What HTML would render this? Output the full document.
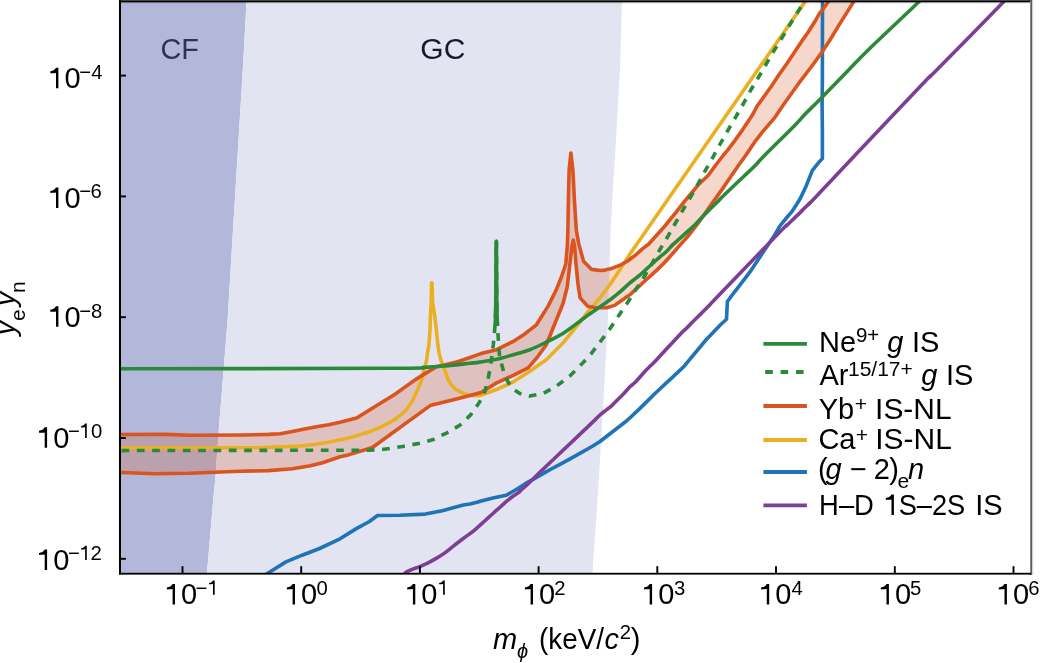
<!DOCTYPE html>
<html><head><meta charset="utf-8"><title>Chart</title>
<style>
html,body{margin:0;padding:0;background:#fff;}
body{width:1040px;height:663px;overflow:hidden;}
svg{display:block;font-family:"Liberation Sans",sans-serif;will-change:transform;}
</style></head><body>
<svg width="1040" height="663" viewBox="0 0 1040 663">
<defs><clipPath id="c"><rect x="121" y="1" width="910" height="572"/></clipPath></defs>
<g clip-path="url(#c)">
<polygon points="121.0,0.0 246.6,0.0 243.4,60.0 231.2,260.0 227.6,320.0 221.2,400.0 219.5,420.0 215.2,480.0 213.2,500.0 206.8,575.0 121.0,575.0" fill="#b3b8da"/>
<polygon points="246.6,0.0 243.4,60.0 231.2,260.0 227.6,320.0 221.2,400.0 219.5,420.0 215.2,480.0 213.2,500.0 206.8,575.0 592.3,575.0 597.5,500.0 603.5,400.0 607.9,320.0 610.6,230.0 613.5,180.0 618.3,100.0 620.3,60.0 621.9,0.0" fill="#e2e4f1"/>
<polygon points="110.0,434.6 166.2,434.4 189.2,435.3 244.1,435.0 268.3,434.4 280.4,433.8 292.4,431.4 304.5,429.0 316.6,426.8 328.7,424.7 340.0,422.3 356.6,418.0 374.7,406.7 395.0,394.3 415.4,379.6 435.7,367.1 445.3,364.7 458.4,361.5 481.0,353.6 496.6,349.7 513.2,341.4 524.8,333.9 536.4,324.8 548.1,306.1 556.3,289.8 561.7,276.2 565.8,264.0 567.4,245.0 567.9,230.0 568.4,200.3 569.1,170.2 570.9,153.0 572.9,170.2 574.4,200.3 576.3,230.0 578.7,243.6 583.5,261.2 591.6,269.4 600.0,270.5 605.0,270.1 612.5,268.2 620.1,265.2 627.6,261.0 635.2,255.4 642.7,248.6 648.5,244.2 656.2,235.8 663.8,227.3 670.1,219.5 675.8,212.7 683.5,202.7 691.2,193.5 698.8,184.2 708.1,175.5 715.8,165.0 723.5,155.0 728.1,149.6 735.0,140.4 742.7,129.6 751.9,115.8 757.3,105.8 763.5,97.3 771.2,86.5 778.8,75.0 786.9,63.5 794.6,51.9 802.3,40.4 808.1,32.3 815.8,20.0 819.6,13.1 823.5,8.5 828.1,1.9 829.3,0.0 854.7,0.0 853.5,1.9 846.5,13.1 838.8,25.4 829.2,41.2 821.5,52.7 813.8,63.5 798.1,84.2 790.4,95.0 782.7,105.8 775.0,117.3 761.9,132.7 754.2,142.7 746.5,154.2 738.8,165.0 731.2,176.0 721.9,189.6 714.2,200.4 706.5,211.2 698.1,223.2 687.7,236.6 680.2,244.9 670.0,256.6 663.2,263.9 657.1,269.9 651.1,275.3 645.1,280.8 637.7,287.7 630.0,294.6 622.3,300.0 614.6,305.4 606.9,307.7 595.4,307.7 587.7,306.2 580.1,297.9 578.0,284.3 576.0,264.0 574.6,246.3 573.3,240.2 571.9,246.3 569.9,264.0 567.2,287.0 563.1,303.3 556.3,320.0 546.3,344.7 538.0,356.3 528.1,367.9 513.2,375.4 496.6,382.9 481.0,392.5 458.4,398.4 430.1,405.6 372.4,447.5 348.4,454.9 340.0,456.7 322.6,462.8 310.5,465.8 292.4,468.8 268.3,470.6 240.0,471.3 189.2,473.3 154.6,473.7 121.2,472.5 110.0,472.4" fill="#d9541e" fill-opacity="0.23"/>
<polyline points="262.0,577.0 268.5,572.7 286.0,561.9 302.1,555.2 319.6,548.5 338.4,539.7 355.9,528.9 369.4,521.5 377.5,515.5 400.0,515.3 425.3,514.1 442.2,510.7 463.3,505.0 470.0,504.0 476.0,502.5 482.1,500.7 488.1,499.2 494.1,497.7 500.2,496.5 506.2,495.3 515.0,490.2 521.0,486.5 527.1,482.6 533.1,479.3 539.1,476.0 545.2,472.4 551.2,469.0 556.2,466.4 568.3,459.8 580.3,453.2 592.4,446.3 600.0,441.5 627.1,420.5 640.0,408.4 654.0,394.5 660.1,388.8 666.1,383.1 672.1,377.6 678.2,371.9 684.2,366.2 705.9,340.0 720.0,325.3 726.5,319.2 727.4,301.5 729.8,298.2 746.4,276.6 750.3,271.4 762.4,253.3 774.5,235.2 780.0,225.8 786.0,218.5 792.1,211.3 796.9,204.0 800.5,198.0 805.8,186.9 812.4,170.4 819.6,161.4 822.4,158.6 822.4,132.4 822.1,105.2 822.4,78.1 822.5,0.0" fill="none" stroke="#1f73b7" stroke-width="3.6" stroke-linejoin="round" />
<polyline points="110.0,448.0 256.2,447.7 280.4,446.7 300.0,446.1 313.6,444.5 327.2,442.5 340.7,439.8 354.3,436.4 367.9,432.3 381.5,426.8 395.1,419.4 405.9,410.6 411.5,402.5 417.0,390.9 421.7,380.0 422.8,375.2 424.7,367.7 426.6,360.2 427.6,352.6 428.9,345.1 429.5,337.5 430.0,330.0 430.4,316.2 431.2,302.6 431.6,282.7 432.0,282.7 432.6,302.6 434.8,316.2 436.4,330.0 437.1,337.5 437.9,345.1 439.0,352.6 440.9,360.2 443.8,367.7 446.6,375.2 448.1,380.0 451.5,385.0 456.0,389.5 461.5,392.5 467.0,394.6 472.0,395.8 480.0,395.5 496.6,389.5 513.2,382.0 529.8,371.3 546.3,359.7 562.9,343.1 581.5,320.0 588.7,310.8 596.4,302.3 604.1,292.3 609.6,285.0 616.8,274.2 624.2,262.9 631.6,251.6 639.0,241.0 806.3,0.0" fill="none" stroke="#ebb021" stroke-width="3.6" stroke-linejoin="round" />
<polyline points="110.0,434.6 166.2,434.4 189.2,435.3 244.1,435.0 268.3,434.4 280.4,433.8 292.4,431.4 304.5,429.0 316.6,426.8 328.7,424.7 340.0,422.3 356.6,418.0 374.7,406.7 395.0,394.3 415.4,379.6 435.7,367.1 445.3,364.7 458.4,361.5 481.0,353.6 496.6,349.7 513.2,341.4 524.8,333.9 536.4,324.8 548.1,306.1 556.3,289.8 561.7,276.2 565.8,264.0 567.4,245.0 567.9,230.0 568.4,200.3 569.1,170.2 570.9,153.0 572.9,170.2 574.4,200.3 576.3,230.0 578.7,243.6 583.5,261.2 591.6,269.4 600.0,270.5 605.0,270.1 612.5,268.2 620.1,265.2 627.6,261.0 635.2,255.4 642.7,248.6 648.5,244.2 656.2,235.8 663.8,227.3 670.1,219.5 675.8,212.7 683.5,202.7 691.2,193.5 698.8,184.2 708.1,175.5 715.8,165.0 723.5,155.0 728.1,149.6 735.0,140.4 742.7,129.6 751.9,115.8 757.3,105.8 763.5,97.3 771.2,86.5 778.8,75.0 786.9,63.5 794.6,51.9 802.3,40.4 808.1,32.3 815.8,20.0 819.6,13.1 823.5,8.5 828.1,1.9 829.3,0.0" fill="none" stroke="#d9541e" stroke-width="3.6" stroke-linejoin="round" />
<polyline points="110.0,472.4 121.2,472.5 154.6,473.7 189.2,473.3 240.0,471.3 268.3,470.6 292.4,468.8 310.5,465.8 322.6,462.8 340.0,456.7 348.4,454.9 372.4,447.5 430.1,405.6 458.4,398.4 481.0,392.5 496.6,382.9 513.2,375.4 528.1,367.9 538.0,356.3 546.3,344.7 556.3,320.0 563.1,303.3 567.2,287.0 569.9,264.0 571.9,246.3 573.3,240.2 574.6,246.3 576.0,264.0 578.0,284.3 580.1,297.9 587.7,306.2 595.4,307.7 606.9,307.7 614.6,305.4 622.3,300.0 630.0,294.6 637.7,287.7 645.1,280.8 651.1,275.3 657.1,269.9 663.2,263.9 670.0,256.6 680.2,244.9 687.7,236.6 698.1,223.2 706.5,211.2 714.2,200.4 721.9,189.6 731.2,176.0 738.8,165.0 746.5,154.2 754.2,142.7 761.9,132.7 775.0,117.3 782.7,105.8 790.4,95.0 798.1,84.2 813.8,63.5 821.5,52.7 829.2,41.2 838.8,25.4 846.5,13.1 853.5,1.9 854.7,0.0" fill="none" stroke="#d9541e" stroke-width="3.6" stroke-linejoin="round" />
<path d="M400.00,577.00C400.67,576.58 402.95,575.33 404.00,574.50C405.05,573.67 404.70,572.95 406.30,572.00C407.90,571.05 411.33,569.70 413.60,568.80C415.87,567.90 417.65,567.50 419.90,566.60C422.15,565.70 424.38,564.77 427.10,563.40C429.82,562.03 433.18,560.20 436.20,558.40C439.22,556.60 442.18,554.78 445.20,552.60C448.22,550.42 451.28,547.65 454.30,545.30C457.32,542.95 460.68,540.45 463.30,538.50C465.92,536.55 467.88,535.22 470.00,533.60C472.12,531.98 473.98,530.50 476.00,528.80C478.02,527.10 480.08,525.22 482.10,523.40C484.12,521.58 486.10,519.72 488.10,517.90C490.10,516.08 492.08,514.30 494.10,512.50C496.12,510.70 498.18,508.92 500.20,507.10C502.22,505.28 504.23,503.28 506.20,501.60C508.17,499.92 510.03,498.45 512.00,497.00C513.97,495.55 516.50,494.03 518.00,492.90C519.50,491.77 519.48,491.57 521.00,490.20C522.52,488.83 525.08,486.57 527.10,484.70C529.12,482.83 531.10,480.95 533.10,479.00C535.10,477.05 537.08,474.97 539.10,473.00C541.12,471.03 543.18,469.12 545.20,467.20C547.22,465.28 549.37,463.23 551.20,461.50C553.03,459.77 553.35,459.50 556.20,456.80C559.05,454.10 564.28,449.12 568.30,445.30C572.32,441.48 576.28,437.72 580.30,433.90C584.32,430.08 589.12,425.55 592.40,422.40C595.68,419.25 597.73,417.03 600.00,415.00C602.27,412.97 603.98,411.82 606.00,410.20C608.02,408.58 610.08,407.12 612.10,405.30C614.12,403.48 616.10,401.30 618.10,399.30C620.10,397.30 622.08,395.42 624.10,393.30C626.12,391.18 628.18,388.62 630.20,386.60C632.22,384.58 633.73,383.75 636.20,381.20C638.67,378.65 642.53,373.95 645.00,371.30C647.47,368.65 648.98,367.32 651.00,365.30C653.02,363.28 652.27,364.35 657.10,359.20C661.93,354.05 675.18,339.48 680.00,334.40C684.82,329.32 683.98,330.67 686.00,328.70C688.02,326.73 690.08,324.62 692.10,322.60C694.12,320.58 696.10,318.60 698.10,316.60C700.10,314.60 702.08,312.62 704.10,310.60C706.12,308.58 708.58,306.17 710.20,304.50C711.82,302.83 702.17,312.72 713.80,300.60C725.43,288.48 767.97,244.22 780.00,231.80C792.03,219.38 783.98,228.02 786.00,226.10C788.02,224.18 790.08,222.22 792.10,220.30C794.12,218.38 796.10,216.55 798.10,214.60C800.10,212.65 802.08,210.62 804.10,208.60C806.12,206.58 808.18,204.52 810.20,202.50C812.22,200.48 801.23,212.30 816.20,196.50C831.17,180.70 885.03,123.55 900.00,107.70C914.97,91.85 903.98,103.52 906.00,101.40C908.02,99.28 910.08,97.12 912.10,95.00C914.12,92.88 916.10,90.80 918.10,88.70C920.10,86.60 922.08,84.52 924.10,82.40C926.12,80.28 928.18,77.97 930.20,76.00C932.22,74.03 923.88,83.05 936.20,70.60C948.52,58.15 992.57,13.07 1004.10,1.30C1015.63,-10.47 1005.18,0.22 1005.40,0.00" fill="none" stroke="#7d3f95" stroke-width="3.6" stroke-linejoin="round" />
<path d="M110.00,368.80C156.75,368.72 338.10,368.53 390.50,368.30C442.90,368.07 415.27,367.80 424.40,367.40C433.53,367.00 437.75,366.58 445.30,365.90C452.85,365.22 463.92,363.93 469.70,363.30C475.48,362.67 475.52,362.77 480.00,362.10C484.48,361.43 491.07,360.53 496.60,359.30C502.13,358.07 507.67,356.30 513.20,354.70C518.73,353.10 524.28,351.78 529.80,349.70C535.32,347.62 540.78,344.90 546.30,342.20C551.82,339.50 557.03,337.20 562.90,333.50C568.77,329.80 577.37,323.02 581.50,320.00C585.63,316.98 585.38,317.07 587.70,315.40C590.02,313.73 592.83,311.80 595.40,310.00C597.97,308.20 600.53,306.40 603.10,304.60C605.67,302.80 608.23,301.12 610.80,299.20C613.37,297.28 615.30,295.82 618.50,293.10C621.70,290.38 627.08,285.40 630.00,282.90C632.92,280.40 633.98,279.72 636.00,278.10C638.02,276.48 640.08,274.97 642.10,273.20C644.12,271.43 646.10,269.35 648.10,267.50C650.10,265.65 652.08,263.92 654.10,262.10C656.12,260.28 658.18,258.32 660.20,256.60C662.22,254.88 664.13,253.75 666.20,251.80C668.27,249.85 670.27,247.18 672.60,244.90C674.93,242.62 677.68,240.37 680.20,238.10C682.72,235.83 685.20,233.57 687.70,231.30C690.20,229.03 692.70,226.97 695.20,224.50C697.70,222.03 700.17,219.12 702.70,216.50C705.23,213.88 707.83,211.35 710.40,208.80C712.97,206.25 715.67,203.63 718.10,201.20C720.53,198.77 720.65,198.40 725.00,194.20C729.35,190.00 739.33,180.62 744.20,176.00C749.07,171.38 750.73,170.00 754.20,166.50C757.67,163.00 758.33,161.75 765.00,155.00C771.67,148.25 787.53,132.80 794.20,126.00C800.87,119.20 800.80,118.53 805.00,114.20C809.20,109.87 812.13,107.37 819.40,100.00C826.67,92.63 840.17,78.63 848.60,70.00C857.03,61.37 858.18,59.65 870.00,48.20C881.82,36.75 911.00,9.33 919.50,1.30C928.00,-6.73 920.75,0.22 921.00,0.00" fill="none" stroke="#2a8a3a" stroke-width="3.6" stroke-linejoin="round" />
<polyline points="495.0,326.0 495.4,320.0 495.8,300.0 496.1,260.0 496.2,241.3 496.4,241.3 496.5,260.0 496.8,300.0 497.2,320.0 497.5,326.0" fill="none" stroke="#2a8a3a" stroke-width="3.6" stroke-linejoin="round" />
<polyline points="110.0,450.6 367.9,450.2 384.0,449.3 402.5,446.5 420.4,443.1 432.4,439.8 446.5,433.1 459.8,425.3 470.6,414.9 479.3,402.5 485.0,391.2 488.3,377.9 490.8,364.6 493.3,344.7 494.6,331.0 495.4,320.0 495.8,300.0 496.1,260.0 496.2,241.3 496.4,241.3 496.5,260.0 496.8,300.0 497.2,320.0 497.8,331.9 499.6,356.8 504.9,376.2 511.5,387.8 519.8,393.6 529.8,396.1 543.0,393.6 556.3,386.2 569.6,376.2 581.2,364.6 591.1,353.8 601.1,340.6 611.0,327.3 618.8,315.4 627.3,303.1 635.8,289.6 643.6,277.8 652.3,263.0 659.2,250.8 667.3,237.3 674.6,224.5 682.7,210.4 690.4,197.3 698.1,183.8 705.4,170.4 713.1,156.9 720.4,143.5 728.1,130.0 735.8,116.9 743.5,103.5 750.8,90.0 758.5,77.3 766.5,63.5 774.2,50.4 782.3,37.3 789.2,25.8 792.7,20.0 800.4,7.7 805.0,1.9 806.3,0.0" fill="none" stroke="#2a8a3a" stroke-width="3.6" stroke-linejoin="round" stroke-dasharray="7.7 7.63" stroke-dashoffset="3.8" stroke-linejoin="miter"/>
</g>
<text x="160.40" y="59.00" font-size="30" fill="#2d3256" textLength="38.5" lengthAdjust="spacingAndGlyphs">CF</text>
<text x="420.30" y="59.10" font-size="30" fill="#17192c" >GC</text>
<rect x="181.55" y="566.2" width="1.9" height="7" fill="#000"/>
<rect x="300.25" y="566.2" width="1.9" height="7" fill="#000"/>
<rect x="418.95" y="566.2" width="1.9" height="7" fill="#000"/>
<rect x="537.65" y="566.2" width="1.9" height="7" fill="#000"/>
<rect x="656.35" y="566.2" width="1.9" height="7" fill="#000"/>
<rect x="775.05" y="566.2" width="1.9" height="7" fill="#000"/>
<rect x="893.85" y="566.2" width="1.9" height="7" fill="#000"/>
<rect x="1012.55" y="566.2" width="1.9" height="7" fill="#000"/>
<rect x="120" y="74.65" width="5.9" height="1.9" fill="#000"/>
<rect x="120" y="195.45" width="5.9" height="1.9" fill="#000"/>
<rect x="120" y="316.25" width="5.9" height="1.9" fill="#000"/>
<rect x="120" y="437.05" width="5.9" height="1.9" fill="#000"/>
<rect x="120" y="557.85" width="5.9" height="1.9" fill="#000"/>
<rect x="119" y="0" width="913" height="1" fill="#454545"/>
<rect x="119" y="1" width="912" height="1" fill="#000"/>
<rect x="121" y="2" width="909" height="1" fill="#000" fill-opacity="0.4"/>
<rect x="121" y="3" width="909" height="1" fill="#000" fill-opacity="0.06"/>
<rect x="1030" y="1" width="1" height="574" fill="#888"/>
<rect x="1031" y="0" width="1" height="575" fill="#5c5c5c"/>
<rect x="1032" y="0" width="1" height="575" fill="#d4d4d4"/>
<rect x="1033" y="0" width="1" height="575" fill="#f4f4f4"/>
<rect x="119" y="0" width="2" height="574.6" fill="#000"/>
<rect x="119" y="572.8" width="912" height="1.8" fill="#000"/>
<path transform="translate(166.90,604.40)" d="M5.7,-20.5L8.1,-20.5L8.1,0L5.7,0L5.7,-15.3C4.5,-15.1 2,-15.0 0,-15.0L0,-17.0C2.5,-17.3 4.7,-18.5 5.7,-20.5Z"/><text x="181.03" y="604.30" font-size="29" >0</text>
<text x="195.40" y="594.80" font-size="20.3" >−</text><path transform="translate(209.00,594.80) scale(0.7000)" d="M5.7,-20.5L8.1,-20.5L8.1,0L5.7,0L5.7,-15.3C4.5,-15.1 2,-15.0 0,-15.0L0,-17.0C2.5,-17.3 4.7,-18.5 5.7,-20.5Z"/>
<path transform="translate(286.90,604.40)" d="M5.7,-20.5L8.1,-20.5L8.1,0L5.7,0L5.7,-15.3C4.5,-15.1 2,-15.0 0,-15.0L0,-17.0C2.5,-17.3 4.7,-18.5 5.7,-20.5Z"/><text x="301.03" y="604.30" font-size="29" >0</text>
<text x="316.50" y="594.80" font-size="20.3" >0</text>
<path transform="translate(407.20,604.40)" d="M5.7,-20.5L8.1,-20.5L8.1,0L5.7,0L5.7,-15.3C4.5,-15.1 2,-15.0 0,-15.0L0,-17.0C2.5,-17.3 4.7,-18.5 5.7,-20.5Z"/><text x="421.33" y="604.30" font-size="29" >0</text>
<path transform="translate(439.10,594.80) scale(0.7000)" d="M5.7,-20.5L8.1,-20.5L8.1,0L5.7,0L5.7,-15.3C4.5,-15.1 2,-15.0 0,-15.0L0,-17.0C2.5,-17.3 4.7,-18.5 5.7,-20.5Z"/>
<path transform="translate(524.90,604.40)" d="M5.7,-20.5L8.1,-20.5L8.1,0L5.7,0L5.7,-15.3C4.5,-15.1 2,-15.0 0,-15.0L0,-17.0C2.5,-17.3 4.7,-18.5 5.7,-20.5Z"/><text x="539.03" y="604.30" font-size="29" >0</text>
<text x="554.20" y="594.80" font-size="20.3" >2</text>
<path transform="translate(644.00,604.40)" d="M5.7,-20.5L8.1,-20.5L8.1,0L5.7,0L5.7,-15.3C4.5,-15.1 2,-15.0 0,-15.0L0,-17.0C2.5,-17.3 4.7,-18.5 5.7,-20.5Z"/><text x="658.13" y="604.30" font-size="29" >0</text>
<text x="673.90" y="594.80" font-size="20.3" >3</text>
<path transform="translate(761.10,604.40)" d="M5.7,-20.5L8.1,-20.5L8.1,0L5.7,0L5.7,-15.3C4.5,-15.1 2,-15.0 0,-15.0L0,-17.0C2.5,-17.3 4.7,-18.5 5.7,-20.5Z"/><text x="775.23" y="604.30" font-size="29" >0</text>
<text x="791.40" y="594.80" font-size="20.3" >4</text>
<path transform="translate(880.80,604.40)" d="M5.7,-20.5L8.1,-20.5L8.1,0L5.7,0L5.7,-15.3C4.5,-15.1 2,-15.0 0,-15.0L0,-17.0C2.5,-17.3 4.7,-18.5 5.7,-20.5Z"/><text x="894.93" y="604.30" font-size="29" >0</text>
<text x="910.10" y="594.80" font-size="20.3" >5</text>
<path transform="translate(998.80,604.40)" d="M5.7,-20.5L8.1,-20.5L8.1,0L5.7,0L5.7,-15.3C4.5,-15.1 2,-15.0 0,-15.0L0,-17.0C2.5,-17.3 4.7,-18.5 5.7,-20.5Z"/><text x="1012.93" y="604.30" font-size="29" >0</text>
<text x="1028.30" y="594.80" font-size="20.3" >6</text>
<path transform="translate(50.30,88.30)" d="M5.7,-20.5L8.1,-20.5L8.1,0L5.7,0L5.7,-15.3C4.5,-15.1 2,-15.0 0,-15.0L0,-17.0C2.5,-17.3 4.7,-18.5 5.7,-20.5Z"/><text x="64.43" y="88.20" font-size="29" >0</text>
<text x="79.30" y="78.70" font-size="20.3" >−</text><text x="91.20" y="78.70" font-size="20.3" >4</text>
<path transform="translate(50.30,207.90)" d="M5.7,-20.5L8.1,-20.5L8.1,0L5.7,0L5.7,-15.3C4.5,-15.1 2,-15.0 0,-15.0L0,-17.0C2.5,-17.3 4.7,-18.5 5.7,-20.5Z"/><text x="64.43" y="207.80" font-size="29" >0</text>
<text x="79.30" y="198.40" font-size="20.3" >−</text><text x="90.60" y="198.40" font-size="20.3" >6</text>
<path transform="translate(50.30,326.70)" d="M5.7,-20.5L8.1,-20.5L8.1,0L5.7,0L5.7,-15.3C4.5,-15.1 2,-15.0 0,-15.0L0,-17.0C2.5,-17.3 4.7,-18.5 5.7,-20.5Z"/><text x="64.43" y="326.60" font-size="29" >0</text>
<text x="79.30" y="317.50" font-size="20.3" >−</text><text x="91.00" y="317.50" font-size="20.3" >8</text>
<path transform="translate(39.00,447.80)" d="M5.7,-20.5L8.1,-20.5L8.1,0L5.7,0L5.7,-15.3C4.5,-15.1 2,-15.0 0,-15.0L0,-17.0C2.5,-17.3 4.7,-18.5 5.7,-20.5Z"/><text x="53.13" y="447.70" font-size="29" >0</text>
<text x="68.00" y="437.90" font-size="20.3" >−</text><path transform="translate(81.10,437.90) scale(0.7000)" d="M5.7,-20.5L8.1,-20.5L8.1,0L5.7,0L5.7,-15.3C4.5,-15.1 2,-15.0 0,-15.0L0,-17.0C2.5,-17.3 4.7,-18.5 5.7,-20.5Z"/><text x="90.90" y="437.90" font-size="20.3" >0</text>
<path transform="translate(39.00,569.90)" d="M5.7,-20.5L8.1,-20.5L8.1,0L5.7,0L5.7,-15.3C4.5,-15.1 2,-15.0 0,-15.0L0,-17.0C2.5,-17.3 4.7,-18.5 5.7,-20.5Z"/><text x="53.13" y="569.80" font-size="29" >0</text>
<text x="68.00" y="560.00" font-size="20.3" >−</text><path transform="translate(81.10,560.00) scale(0.7000)" d="M5.7,-20.5L8.1,-20.5L8.1,0L5.7,0L5.7,-15.3C4.5,-15.1 2,-15.0 0,-15.0L0,-17.0C2.5,-17.3 4.7,-18.5 5.7,-20.5Z"/><text x="90.50" y="560.00" font-size="20.3" >2</text>
<text x="492.90" y="648.50" font-size="29" font-style="italic" >m</text>
<text x="517.00" y="658.30" font-size="20" font-style="italic" >ϕ</text>
<text x="539.00" y="648.60" font-size="29" textLength="65" lengthAdjust="spacingAndGlyphs">(keV/</text>
<text x="604.40" y="648.60" font-size="29" font-style="italic" >c</text>
<text x="619.80" y="638.50" font-size="20.3" >2</text>
<text x="630.80" y="648.60" font-size="29" >)</text>
<text transform="translate(15.10,335.20) rotate(-90)" font-size="29" font-style="italic">y</text>
<text transform="translate(25.20,320.90) rotate(-90)" font-size="21">e</text>
<text transform="translate(15.10,305.90) rotate(-90)" font-size="29" font-style="italic">y</text>
<text transform="translate(25.20,292.90) rotate(-90)" font-size="21">n</text>
<line x1="763.4" y1="343.9" x2="806.9" y2="343.9" stroke="#2a8a3a" stroke-width="3.8" />
<line x1="765.2" y1="372.0" x2="803.6" y2="372.0" stroke="#2a8a3a" stroke-width="3.8" stroke-dasharray="7.6 7.8"/>
<line x1="763.4" y1="406.0" x2="806.9" y2="406.0" stroke="#d9541e" stroke-width="3.8" />
<line x1="763.4" y1="440.0" x2="806.9" y2="440.0" stroke="#ebb021" stroke-width="3.8" />
<line x1="763.4" y1="472.0" x2="806.9" y2="472.0" stroke="#1f73b7" stroke-width="3.8" />
<line x1="763.4" y1="505.3" x2="806.9" y2="505.3" stroke="#7d3f95" stroke-width="3.8" />
<text x="819.00" y="351.90" font-size="29" >Ne</text>
<text x="855.90" y="342.40" font-size="20.5" >9+</text>
<text x="887.30" y="351.90" font-size="29" font-style="italic" >g</text>
<text x="912.00" y="351.90" font-size="29" >IS</text>
<text x="819.40" y="384.80" font-size="29" >Ar</text>
<text x="848.00" y="375.50" font-size="21" >15/17+</text>
<text x="921.30" y="384.80" font-size="29" font-style="italic" >g</text>
<text x="946.00" y="384.80" font-size="29" >IS</text>
<text x="818.70" y="418.50" font-size="29" >Yb</text>
<text x="854.70" y="410.90" font-size="21" >+</text>
<text x="875.10" y="418.50" font-size="29" textLength="76.5" lengthAdjust="spacingAndGlyphs">IS-NL</text>
<text x="818.40" y="449.20" font-size="29" >Ca</text>
<text x="855.70" y="441.60" font-size="21" >+</text>
<text x="875.30" y="449.20" font-size="29" textLength="76.5" lengthAdjust="spacingAndGlyphs">IS-NL</text>
<text x="818.00" y="478.80" font-size="29" >(</text>
<text x="825.50" y="478.80" font-size="29" font-style="italic" >g</text>
<text x="850.00" y="478.80" font-size="29" >−</text>
<text x="873.70" y="478.80" font-size="29" >2</text>
<text x="889.20" y="478.80" font-size="29" >)</text>
<text x="897.50" y="488.20" font-size="21" >e</text>
<text x="908.00" y="478.80" font-size="29" font-style="italic" >n</text>
<text x="819.10" y="514.90" font-size="29" textLength="54.8" lengthAdjust="spacingAndGlyphs">H–D</text>
<path transform="translate(885.80,514.90)" d="M5.7,-20.5L8.1,-20.5L8.1,0L5.7,0L5.7,-15.3C4.5,-15.1 2,-15.0 0,-15.0L0,-17.0C2.5,-17.3 4.7,-18.5 5.7,-20.5Z"/>
<text x="898.70" y="514.90" font-size="29" textLength="66.5" lengthAdjust="spacingAndGlyphs">S–2S</text>
<text x="975.30" y="514.90" font-size="29" >IS</text>
</svg>
</body></html>
